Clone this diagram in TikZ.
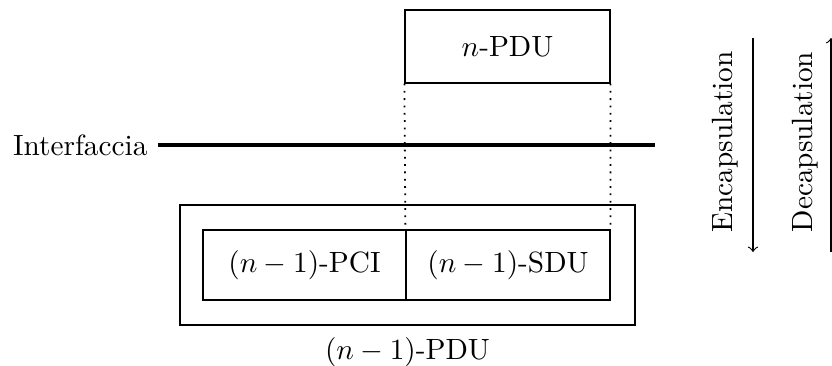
\documentclass[tikz,border=0pt]{standalone}
\begin{document}
\begin{tikzpicture}[x=0.3413pt,y=-0.3413pt,
  box/.style={draw,inner sep=0pt},
  lbl/.style={inner sep=0pt},
  dotline/.style={line width=0.6pt,dash pattern=on 0.6pt off 1.9pt}]
\useasboundingbox (0,0) rectangle (832,365);
\node[box,minimum width=205*0.3413pt,minimum height=73*0.3413pt] (npdu) at (507.5,46.5) {$n$-PDU};
\node[box,minimum width=455*0.3413pt,minimum height=120*0.3413pt] (outer) at (407.5,265) {};
\node[box,minimum width=203*0.3413pt,minimum height=70*0.3413pt] (pci) at (304.5,265) {$(n-1)$-PCI};
\node[box,minimum width=204*0.3413pt,minimum height=70*0.3413pt] (sdu) at (508,265) {$(n-1)$-SDU};
\node[lbl] (pdulbl) at (407.5,352) {$(n-1)$-PDU};
\coordinate (il) at (158,145);
\coordinate (ir) at (655,145);
\node[lbl,anchor=east] (intf) at (148,145) {Interfaccia};
\draw[line width=1.2pt] (il) -- (ir);
\draw[dotline] (npdu.south west) -- (sdu.north west);
\draw[dotline] (npdu.south east) -- (sdu.north east);
\coordinate (ea) at (753,38);
\coordinate (eb) at (753,252);
\coordinate (da) at (831,38);
\coordinate (db) at (831,252);
\draw[->] (ea) -- (eb);
\draw[->] (db) -- (da);
\node[lbl,rotate=90] (enc) at (725,142) {Encapsulation};
\node[lbl,rotate=90] (dec) at (805,142) {Decapsulation};
\end{tikzpicture}
\end{document}
